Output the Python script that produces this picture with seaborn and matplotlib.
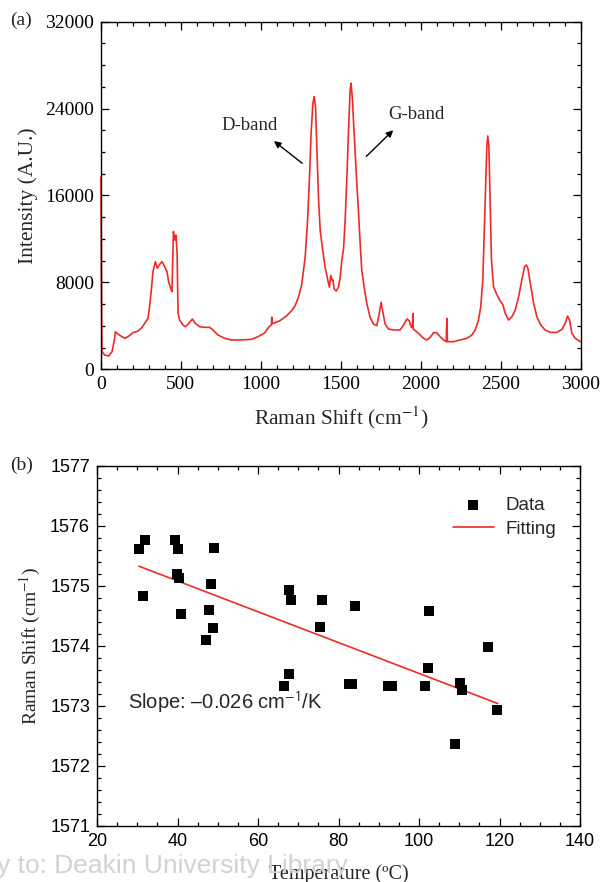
import numpy as np
import pandas as pd
import matplotlib
matplotlib.use("Agg")
import matplotlib.pyplot as plt
from matplotlib.ticker import MultipleLocator
import seaborn as sns

# (a) Raman spectrum
raman_shift = [0, 3, 6, 23, 48, 69, 84, 90, 100, 121, 148, 169, 200, 231, 257, 284,
               294, 304, 315, 325, 340, 352, 367, 382, 398, 413, 423, 436, 444, 448,
               453, 461, 469, 476, 482, 492, 513, 528, 549, 572, 590, 617, 649, 680,
               701, 732, 774, 815, 878, 941, 982, 1024, 1050, 1066, 1068, 1072, 1120,
               1162, 1193, 1214, 1235, 1256, 1277, 1292, 1304, 1314, 1325, 1333, 1342,
               1350, 1360, 1371, 1387, 1402, 1419, 1429, 1437, 1446, 1450, 1458, 1471,
               1485, 1496, 1506, 1517, 1527, 1538, 1548, 1558, 1564, 1573, 1579, 1590,
               1600, 1610, 1621, 1631, 1646, 1663, 1683, 1704, 1725, 1740, 1752, 1763,
               1777, 1798, 1830, 1871, 1896, 1913, 1927, 1940, 1948, 1950, 1953, 1986,
               2017, 2038, 2059, 2080, 2100, 2121, 2142, 2159, 2163, 2167, 2205, 2246,
               2288, 2319, 2340, 2361, 2375, 2388, 2396, 2405, 2413, 2419, 2426, 2434,
               2442, 2455, 2472, 2493, 2514, 2528, 2549, 2570, 2591, 2612, 2632, 2649,
               2660, 2670, 2685, 2706, 2726, 2751, 2778, 2810, 2851, 2883, 2903, 2918,
               2930, 2945, 2966, 2998]
intensity = [17700, 8000, 1620, 1316, 1224, 1620, 2700, 3460, 3310, 3100, 2850, 3000,
             3370, 3520, 3860, 4470, 4690, 5760, 7300, 8990, 9910, 9300, 9670, 9910,
             9450, 8990, 8070, 7460, 7150, 9450, 12670, 11900, 12360, 10670, 5150, 4530,
             4070, 3920, 4230, 4620, 4230, 3920, 3860, 3860, 3610, 3150, 2850, 2700,
             2700, 2760, 3000, 3350, 3900, 4100, 4800, 4200, 4480, 4940, 5400, 5860,
             6630, 7860, 10320, 13700, 17690, 21680, 24440, 25110, 24130, 20450, 15850,
             12780, 10940, 9400, 8180, 7560, 8640, 8180, 8240, 7410, 7200, 7560, 8480,
             10020, 11090, 13700, 17690, 21990, 25670, 26340, 24750, 22910, 19840, 17080,
             14620, 11550, 9100, 7560, 6020, 4790, 4170, 4020, 5090, 6170, 5250, 4170,
             3710, 3620, 3620, 4170, 4630, 4480, 3900, 3860, 5150, 3700, 3310, 2850,
             2700, 2940, 3370, 3370, 3000, 2700, 2540, 4690, 2540, 2540, 2700, 2850,
             3150, 3610, 4530, 5760, 8220, 12210, 16810, 20500, 21480, 20500, 15280,
             10060, 7610, 7000, 6380, 5920, 5150, 4530, 4840, 5460, 6690, 8220, 9450,
             9600, 9300, 7920, 6070, 4840, 4070, 3610, 3400, 3400, 3680, 4230, 4900,
             4530, 3310, 2850, 2540]

# (b) G-band position vs temperature
temperature = [30.4, 31.8, 31.3, 39.3, 40.0, 39.8, 40.4, 40.9, 49.0, 48.2, 47.8, 48.7,
               47.0, 67.8, 68.3, 67.6, 66.4, 75.3, 75.9, 82.7, 83.4, 84.2, 92.4, 93.4,
               101.5, 102.2, 102.5, 108.9, 110.2, 110.6, 117.2, 119.4]
g_shift = [1575.62, 1575.77, 1574.83, 1575.76, 1575.61, 1575.20, 1575.14, 1574.54,
           1575.64, 1575.04, 1574.60, 1574.30, 1574.10, 1574.94, 1574.76, 1573.53,
           1573.33, 1574.32, 1574.77, 1573.37, 1573.37, 1574.67, 1573.33, 1573.33,
           1573.34, 1573.64, 1574.58, 1572.37, 1573.39, 1573.26, 1573.98, 1572.94]
fit_temperature = [30.4, 119.6]
fit_shift = [1575.33, 1573.04]

RED = "#ee2a2a"
SERIF = "Liberation Serif"
SANS = "Liberation Sans"

sns.set_style("ticks")
plt.rcParams["font.family"] = [SERIF, "DejaVu Serif"]
plt.rcParams["axes.linewidth"] = 1.0


def style_ticks(ax, size, family, pad):
    ax.tick_params(which="both", direction="in", top=True, right=True,
                   width=0.9, colors="black", labelsize=size, pad=pad)
    ax.tick_params(which="major", length=6)
    ax.tick_params(which="minor", length=3)
    for lab in ax.get_xticklabels() + ax.get_yticklabels():
        lab.set_fontfamily(family)
    for s in ax.spines.values():
        s.set_color("black")


fig = plt.figure(figsize=(6, 8.82), dpi=100)

# ---- panel (a)
ax1 = fig.add_axes([0.1683, 0.5813, 0.7995, 0.3941])
spec = pd.DataFrame({"shift": raman_shift, "intensity": intensity})
sns.lineplot(data=spec, x="shift", y="intensity", ax=ax1, color=RED, lw=1.2,
             sort=False, estimator=None, clip_on=False)
ax1.set_xlim(0, 3000)
ax1.set_ylim(0, 32000)
ax1.xaxis.set_major_locator(MultipleLocator(500))
ax1.xaxis.set_minor_locator(MultipleLocator(100))
ax1.yaxis.set_major_locator(MultipleLocator(8000))
ax1.yaxis.set_minor_locator(MultipleLocator(2000))
style_ticks(ax1, 14, SERIF, 5)
ax1.set_xlabel(r"Raman Shift (cm$^{-1}$)", fontsize=15.5, family=SERIF,
               math_fontfamily="stix", labelpad=8)
ax1.set_ylabel("Intensity (A.U.)", fontsize=15.5, family=SERIF, labelpad=5)

arrow = dict(arrowstyle="-|>", color="black", lw=1.0, mutation_scale=10)
ax1.annotate("", xy=(1068, 21170), xytext=(1272, 18810), arrowprops=arrow)
ax1.annotate("", xy=(1840, 22190), xytext=(1647, 19420), arrowprops=arrow)
ax1.text(932, 22400, "D-band", fontsize=13.5, family=SERIF, ha="center", va="center")
ax1.text(1971, 23500, "G-band", fontsize=13.5, family=SERIF, ha="center", va="center")
fig.text(10 / 600, 1 - 20 / 882, "(a)", fontsize=14, family=SERIF, va="center")

# ---- panel (b)
ax2 = fig.add_axes([0.1617, 0.0635, 0.805, 0.4082])
pts = pd.DataFrame({"T": temperature, "shift": g_shift})
fit = pd.DataFrame({"T": fit_temperature, "shift": fit_shift})
sns.scatterplot(data=pts, x="T", y="shift", ax=ax2, marker="s", s=42,
                color="black", edgecolor="black", linewidth=0, label="Data", zorder=3)
sns.lineplot(data=fit, x="T", y="shift", ax=ax2, color=RED, lw=1.2,
             label="Fitting", estimator=None)
ax2.set_xlim(20, 140)
ax2.set_ylim(1571, 1577)
ax2.xaxis.set_major_locator(MultipleLocator(20))
ax2.xaxis.set_minor_locator(MultipleLocator(5))
ax2.yaxis.set_major_locator(MultipleLocator(1))
ax2.yaxis.set_minor_locator(MultipleLocator(0.2))
style_ticks(ax2, 13, SANS, 5)
ax2.set_xlabel("Temperature (ºC)", fontsize=14.5, family=SERIF, labelpad=10)
ax2.set_ylabel(r"Raman Shift (cm$^{-1}$)", fontsize=14, family=SERIF,
               math_fontfamily="stix", labelpad=5)
leg = ax2.legend(loc="upper right", bbox_to_anchor=(0.985, 0.96), frameon=False,
                 prop={"family": SANS, "size": 13.5}, handlelength=2.2,
                 handletextpad=0.6, labelspacing=0.35)
ax2.text(52, 1573.05, r"Slope: –0.026 cm$^{-1}$/K", fontsize=14.5, family=SANS,
         math_fontfamily="stixsans", ha="center", va="center")
fig.text(10 / 600, 1 - 465 / 882, "(b)", fontsize=14, family=SERIF, va="center")

# watermark left at the bottom of the page
fig.text(-0.005, 1 - 866 / 882, "y to: Deakin University Library", fontsize=19,
         family=SANS, color="#d2d2d2", va="center", zorder=0)

fig.savefig("out.png", dpi=100)
